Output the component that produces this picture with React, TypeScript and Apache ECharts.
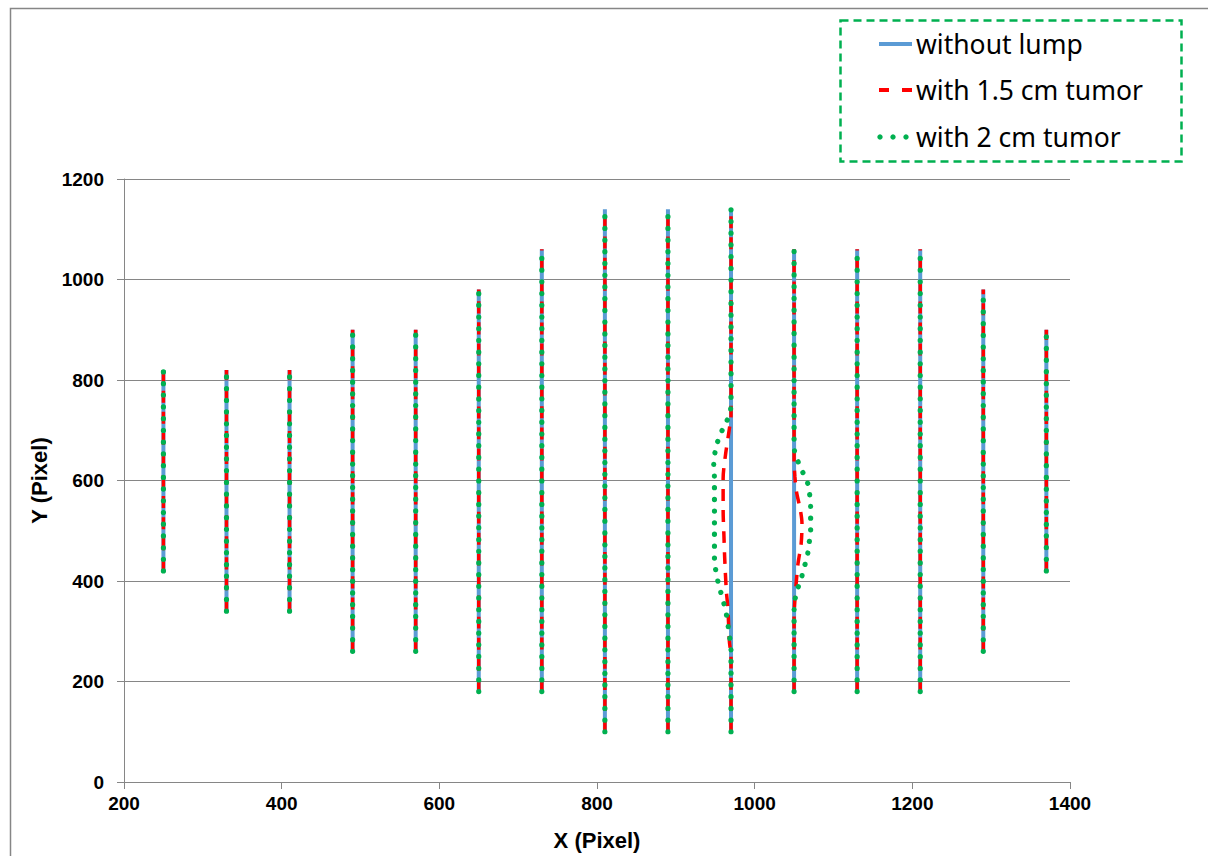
import React, { useEffect, useRef } from "react";
import * as echarts from "echarts";

// Column positions and vertical extents (pixel units)
const columnX = [250, 330, 410, 490, 570, 650, 730, 810, 890, 970, 1050, 1130, 1210, 1290, 1370];
const columnBottom = [420, 340, 340, 260, 260, 180, 180, 100, 100, 100, 180, 180, 180, 260, 420];
const columnTop = [820, 820, 820, 900, 900, 980, 1060, 1140, 1140, 1140, 1060, 1060, 1060, 980, 900];

// Deformed contour points (x, y), ordered bottom to top
const tumor15At970 = [
  [970, 250], [968, 279], [966, 346], [964, 382], [962, 445], [961, 491], [960, 541],
  [960, 604], [963, 651], [968, 704], [970, 730],
];
const tumor15At1050 = [
  [1050, 330], [1051, 362], [1053, 402], [1055, 435], [1059, 475], [1060, 515],
  [1058, 541], [1053, 578], [1051, 608], [1050, 640],
];
const tumor2At970 = [
  [970, 260], [969, 279], [967, 302], [965, 326], [962, 349], [958, 372], [954, 395],
  [951, 418], [949, 442], [949, 500], [949, 560], [949, 604], [948, 627], [949, 649],
  [952, 672], [957, 694], [964, 716], [969, 737], [970, 760],
];
const tumor2At1050 = [
  [1050, 339], [1051, 361], [1054, 382], [1059, 405], [1063, 428], [1067, 452],
  [1069, 475], [1071, 498], [1071, 521], [1071, 545], [1070, 568], [1068, 591],
  [1062, 613], [1056, 634], [1051, 655], [1050, 680],
];

const seriesNames = ["without lump", "with 1.5 cm tumor", "with 2 cm tumor"];
const xTicks = { min: 200, max: 1400, interval: 200 };
const yTicks = { min: 0, max: 1200, interval: 200 };

const BLUE = "#5b9bd5";
const RED = "#ff0000";
const GREEN = "#00b050";
const GRAY = "#868686";

function columnData(i: number, bulges: Record<number, number[][]>) {
  const x = columnX[i];
  const pts: number[][] = [[x, columnBottom[i]]];
  const b = bulges[x];
  if (b) pts.push(...b);
  pts.push([x, columnTop[i]]);
  return pts;
}

export default function App() {
  const ref = useRef<HTMLDivElement>(null);
  useEffect(() => {
    if (!ref.current) return;
    const chart = echarts.init(ref.current, undefined, { renderer: "svg" });
    const series: any[] = [];
    const styles = [
      { color: BLUE, width: 4, type: "solid", cap: "butt" },
      { color: RED, width: 3.5, type: [12, 9], cap: "butt" },
      { color: GREEN, width: 5.2, type: [0.1, 11.6], cap: "round" },
    ];
    const bulgeSets: Record<number, number[][]>[] = [
      {},
      { 970: tumor15At970, 1050: tumor15At1050 },
      { 970: tumor2At970, 1050: tumor2At1050 },
    ];
    for (let s = 0; s < 3; s++) {
      for (let i = 0; i < columnX.length; i++) {
        series.push({
          type: "line",
          name: seriesNames[s],
          data: columnData(i, bulgeSets[s]),
          showSymbol: false,
          symbol: "none",
          smooth: s > 0 ? 0.3 : false,
          lineStyle: styles[s],
          z: 2 + s,
          silent: true,
        });
      }
    }
    const labelFont = {
      color: "#000",
      fontFamily: "Liberation Sans, Arial, sans-serif",
      fontWeight: "bold",
      fontSize: 19,
    };
    const legendY = [44, 90, 137];
    const legendTextStyle = {
      fill: "#000",
      fontFamily: "Noto Sans, sans-serif",
      fontSize: 26.5,
      verticalAlign: "middle",
      align: "left",
    };
    chart.setOption({
      animation: false,
      backgroundColor: "#fff",
      grid: { left: 124, right: 138, top: 179, bottom: 74 },
      xAxis: {
        type: "value",
        ...xTicks,
        name: "X (Pixel)",
        nameLocation: "middle",
        nameGap: 47,
        nameTextStyle: { ...labelFont, fontSize: 22 },
        axisLine: { show: true, lineStyle: { color: GRAY, width: 1 } },
        axisTick: { show: true, length: 7, lineStyle: { color: GRAY } },
        axisLabel: { ...labelFont, margin: 12, formatter: (v: number) => String(v) },
        splitLine: { show: false },
      },
      yAxis: {
        type: "value",
        ...yTicks,
        name: "Y (Pixel)",
        nameLocation: "middle",
        nameGap: 74,
        nameTextStyle: { ...labelFont, fontSize: 22 },
        axisLine: { show: true, lineStyle: { color: GRAY, width: 1 } },
        axisTick: { show: true, length: 7, lineStyle: { color: GRAY } },
        axisLabel: { ...labelFont, margin: 20, formatter: (v: number) => String(v) },
        splitLine: { show: true, lineStyle: { color: GRAY, width: 1 } },
      },
      series,
      graphic: [
        {
          type: "rect",
          shape: { x: 10.5, y: 8.5, width: 1400, height: 1000 },
          style: { fill: "none", stroke: GRAY, lineWidth: 1.5 },
          silent: true,
          z: 0,
        },
        {
          type: "rect",
          shape: { x: 840.5, y: 20.5, width: 341, height: 141 },
          style: { fill: "#fff", stroke: GREEN, lineWidth: 2.5, lineDash: [8, 5] },
          z: 10,
        },
        {
          type: "line",
          shape: { x1: 879, y1: legendY[0], x2: 912, y2: legendY[0] },
          style: { stroke: BLUE, lineWidth: 4 },
          z: 11,
        },
        {
          type: "line",
          shape: { x1: 879, y1: legendY[1], x2: 889, y2: legendY[1] },
          style: { stroke: RED, lineWidth: 4 },
          z: 11,
        },
        {
          type: "line",
          shape: { x1: 902, y1: legendY[1], x2: 912, y2: legendY[1] },
          style: { stroke: RED, lineWidth: 4 },
          z: 11,
        },
        ...[880, 893, 906].map((cx) => ({
          type: "circle",
          shape: { cx, cy: legendY[2], r: 2.7 },
          style: { fill: GREEN },
          z: 11,
        })),
        ...seriesNames.map((name, k) => ({
          type: "text",
          x: 916,
          y: legendY[k],
          style: { ...legendTextStyle, text: name },
          z: 11,
        })),
      ],
    });
    return () => chart.dispose();
  }, []);
  return (
    <div
      ref={ref}
      style={{ position: "absolute", left: 0, top: 0, width: 1208, height: 856 }}
    />
  );
}
